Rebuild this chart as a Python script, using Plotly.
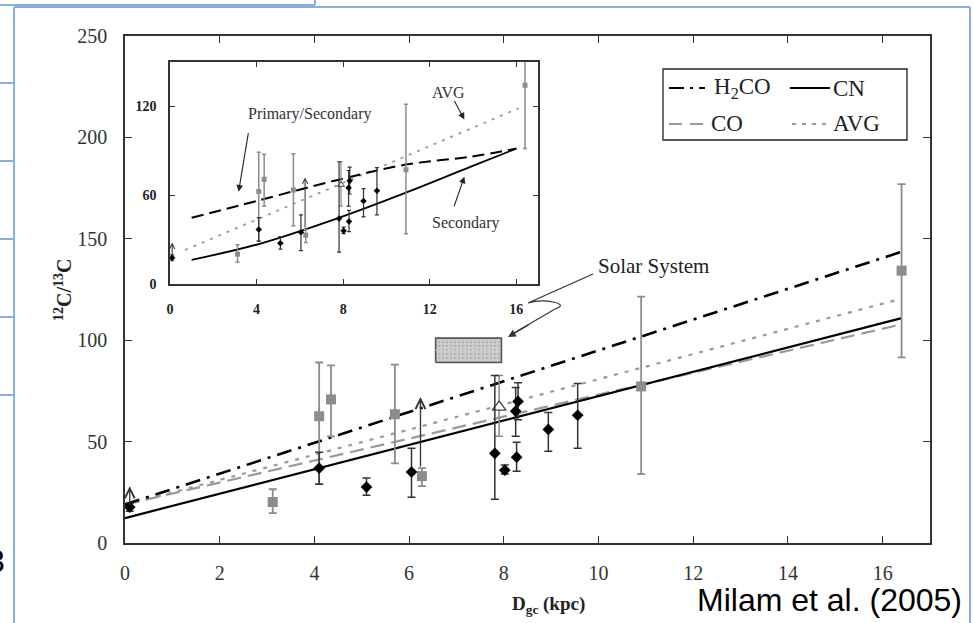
import plotly.graph_objects as go

W, H = 973, 623

# ---------------- data ----------------
# CN measurements (black diamonds)
cn_x = [0.1, 4.1, 5.1, 6.05, 7.81, 8.02, 8.3, 8.25, 8.27, 8.94, 9.56]
cn_y = [17.7, 36.9, 27.6, 35.0, 44.2, 35.9, 69.8, 65.0, 42.3, 56.0, 63.0]
cn_ep = [2.0, 7.9, 4.4, 11.7, 38.4, 2.5, 9.2, 11.7, 7.4, 8.4, 15.7]
cn_em = [2.0, 7.9, 4.0, 12.4, 22.6, 1.9, 9.0, 12.4, 6.9, 10.7, 16.3]

# CO measurements (grey squares)
co_x = [3.12, 4.1, 4.35, 5.7, 6.27, 10.9, 16.4]
co_y = [20.2, 62.5, 70.8, 63.5, 33.0, 77.2, 134.3]
co_ep = [6.3, 26.5, 16.8, 24.5, 3.9, 44.3, 42.7]
co_em = [5.5, 33.5, 18.2, 24.2, 5.0, 43.2, 42.8]

# H2CO measurement (open triangle)
h2_x = [7.9]
h2_y = [67.0]
h2_ep = [15.6]
h2_em = [14.4]

# lower limits (arrows)
lim_x = [0.1, 6.24]
lim_lo = [18.0, 37.0]
lim_hi = [28.0, 72.0]

# gradient fits (main panel)
fit_x = [0.0, 16.4]
h2co_fit = [19.0, 143.6]
cn_fit = [12.3, 110.9]
co_fit = [19.0, 107.8]
avg_fit = [18.7, 120.5]

# inset model curves
in_avg_x = [0.7, 16.1]
in_avg_y = [23.0, 118.7]
prim_x = [1.0, 4.1, 7.8, 10.9, 13.9, 16.0]
prim_y = [44.7, 56.5, 70.5, 80.7, 86.0, 91.5]
sec_x = [1.0, 4.1, 7.8, 10.9, 13.9, 16.0]
sec_y = [16.3, 27.0, 44.7, 61.7, 79.3, 91.5]

# solar system value box
solar_x = [6.56, 7.95]
solar_y = [89.0, 101.0]

x_ticks = [0, 2, 4, 6, 8, 10, 12, 14, 16]
y_ticks = [0, 50, 100, 150, 200, 250]
xi_ticks = [0, 4, 8, 12, 16]
yi_ticks = [0, 60, 120]

SERIF = "Liberation Serif"
GREY = "#8c8c8c"
LGREY = "#9a9a9a"


def PX(p):
    return p / W


def PY(p):
    return 1 - p / H


fig = go.Figure()

# ---------------- main panel ----------------
fig.add_trace(go.Scatter(x=fit_x, y=co_fit, mode="lines", xaxis="x", yaxis="y",
                         line=dict(color=LGREY, width=2.2, dash="14px,7px"), showlegend=False))
fig.add_trace(go.Scatter(x=fit_x, y=avg_fit, mode="lines", xaxis="x", yaxis="y",
                         line=dict(color=LGREY, width=2.2, dash="4px,7px"), showlegend=False))
fig.add_trace(go.Scatter(x=fit_x, y=cn_fit, mode="lines", xaxis="x", yaxis="y",
                         line=dict(color="black", width=2.2), showlegend=False))
fig.add_trace(go.Scatter(x=fit_x, y=h2co_fit, mode="lines", xaxis="x", yaxis="y",
                         line=dict(color="black", width=2.6, dash="15px,7px,3px,7px"), showlegend=False))

# solar box
fig.add_trace(go.Scatter(
    x=[solar_x[0], solar_x[1], solar_x[1], solar_x[0], solar_x[0]],
    y=[solar_y[0], solar_y[0], solar_y[1], solar_y[1], solar_y[0]],
    mode="lines", fill="toself", fillcolor="#c4c4c4",
    fillpattern=dict(shape=".", fgcolor="#9a9a9a", bgcolor="#cdcdcd", size=4, solidity=0.3),
    line=dict(color="#555555", width=1.6), xaxis="x", yaxis="y", showlegend=False))
fig.add_trace(go.Scatter(x=solar_x, y=[(solar_y[0] + solar_y[1]) / 2] * 2, mode="lines",
                         line=dict(color="#f2f2f2", width=1, dash="1px,2px"),
                         xaxis="x", yaxis="y", showlegend=False))

fig.add_trace(go.Scatter(x=co_x, y=co_y, mode="markers", xaxis="x", yaxis="y",
                         marker=dict(symbol="square", size=10, color=GREY),
                         error_y=dict(type="data", array=co_ep, arrayminus=co_em, color=GREY,
                                      thickness=1.8, width=4), showlegend=False))
fig.add_trace(go.Scatter(x=h2_x, y=h2_y, mode="markers", xaxis="x", yaxis="y",
                         marker=dict(symbol="triangle-up", size=12, color="white",
                                     line=dict(color="#444", width=1.3)),
                         error_y=dict(type="data", array=h2_ep, arrayminus=h2_em, color=GREY,
                                      thickness=1.5, width=4), showlegend=False))
fig.add_trace(go.Scatter(x=cn_x, y=cn_y, mode="markers", xaxis="x", yaxis="y",
                         marker=dict(symbol="diamond", size=9, color="black"),
                         error_y=dict(type="data", array=cn_ep, arrayminus=cn_em, color="#333",
                                      thickness=1.5, width=4), showlegend=False))

# ---------------- inset ----------------
fig.add_trace(go.Scatter(x=in_avg_x, y=in_avg_y, mode="lines", xaxis="x2", yaxis="y2",
                         line=dict(color=LGREY, width=1.8, dash="3px,6px"), showlegend=False))
fig.add_trace(go.Scatter(x=prim_x, y=prim_y, mode="lines", xaxis="x2", yaxis="y2",
                         line=dict(color="black", width=2, dash="12px,6px", shape="spline"),
                         showlegend=False))
fig.add_trace(go.Scatter(x=sec_x, y=sec_y, mode="lines", xaxis="x2", yaxis="y2",
                         line=dict(color="black", width=1.8, shape="spline"), showlegend=False))
fig.add_trace(go.Scatter(x=co_x, y=co_y, mode="markers", xaxis="x2", yaxis="y2",
                         marker=dict(symbol="square", size=5, color=GREY),
                         error_y=dict(type="data", array=co_ep, arrayminus=co_em, color=GREY,
                                      thickness=1.5, width=2), showlegend=False))
fig.add_trace(go.Scatter(x=h2_x, y=h2_y, mode="markers", xaxis="x2", yaxis="y2",
                         marker=dict(symbol="triangle-up", size=6, color="white",
                                     line=dict(color="#444", width=1)),
                         error_y=dict(type="data", array=h2_ep, arrayminus=h2_em, color=GREY,
                                      thickness=1.2, width=2), showlegend=False))
fig.add_trace(go.Scatter(x=cn_x, y=cn_y, mode="markers", xaxis="x2", yaxis="y2",
                         marker=dict(symbol="diamond", size=5, color="black"),
                         error_y=dict(type="data", array=cn_ep, arrayminus=cn_em, color="#333",
                                      thickness=1.2, width=2), showlegend=False))

annotations = []
shapes = []

# lower-limit arrows
for xr, yr, wscale, hsize in [("x", "y", 1.0, 1.5), ("x2", "y2", 0.8, 1.0)]:
    for lx, l0, l1 in zip(lim_x, lim_lo, lim_hi):
        annotations.append(dict(x=lx, y=l1, ax=lx, ay=l0, xref=xr, yref=yr, axref=xr, ayref=yr,
                                text="", showarrow=True, arrowhead=5, arrowsize=hsize,
                                arrowwidth=1.3 * wscale, arrowcolor="#333"))


def label(px, py, text, size, family=SERIF, color="#222", xanchor="center", **kw):
    annotations.append(dict(x=PX(px), y=PY(py), xref="paper", yref="paper", showarrow=False,
                            xanchor=xanchor, yanchor="middle", text=text,
                            font=dict(family=family, size=size, color=color), **kw))


# axis titles
label(63, 290, "<b><sup>12</sup>C/<sup>13</sup>C</b>", 20, textangle=-90)
label(548, 605, "<b>D<sub>gc</sub> (kpc)</b>", 19)

# solar system label and pointer
label(596, 266, "Solar System", 21, xanchor="left")
path = "M{},{} L{},{} C{},{} {},{} {},{} L{},{}".format(
    PX(593), PY(274), PX(528), PY(303), PX(545), PY(298), PX(572), PY(304),
    PX(555), PY(309), PX(514), PY(333))
shapes.append(dict(type="path", path=path, xref="paper", yref="paper",
                   line=dict(color="#333", width=1.2)))
annotations.append(dict(x=PX(508), y=PY(337), ax=22, ay=-13, xref="paper", yref="paper",
                        axref="pixel", ayref="pixel", text="", showarrow=True, arrowhead=2,
                        arrowsize=1.3, arrowwidth=1.2, arrowcolor="#333"))

# inset labels
def ilabel(x, y, text):
    annotations.append(dict(x=x, y=y, xref="x2", yref="y2", showarrow=False, xanchor="center",
                            yanchor="middle", text=text,
                            font=dict(family=SERIF, size=16, color="#333")))


def iarrow(x, y, ax, ay):
    annotations.append(dict(x=x, y=y, ax=ax, ay=ay, xref="x2", yref="y2", axref="x2",
                            ayref="y2", text="", showarrow=True, arrowhead=2, arrowsize=1.2,
                            arrowwidth=1.1, arrowcolor="#222"))


ilabel(6.48, 114.6, "Primary/Secondary")
iarrow(3.17, 62.4, 3.63, 103)
ilabel(12.87, 129.5, "AVG")
iarrow(13.6, 111.2, 13.1, 124.7)
ilabel(13.66, 41.4, "Secondary")
iarrow(13.6, 72.5, 13.1, 51.5)

# legend (drawn)
shapes.append(dict(type="rect", xref="paper", yref="paper", x0=PX(663), x1=PX(907),
                   y0=PY(140), y1=PY(69), line=dict(color="#222", width=1.3),
                   fillcolor="white"))
leg = [
    (669, 705, 88, "black", "15px,6px,3px,6px", 712, "H<sub>2</sub>CO"),
    (790, 830, 88, "black", "solid", 831, "CN"),
    (669, 708, 124, LGREY, "13px,8px", 709, "CO"),
    (792, 828, 124, LGREY, "4px,6px", 831, "AVG"),
]
for x0, x1, yy, col, dsh, tx, lab in leg:
    shapes.append(dict(type="line", xref="paper", yref="paper", x0=PX(x0), x1=PX(x1),
                       y0=PY(yy), y1=PY(yy), line=dict(color=col, width=2.2, dash=dsh)))
    label(tx, yy, lab, 23, xanchor="left")

# credit and slide remnants
label(964, 600, "Milam et al. (2005)", 32, family="Liberation Sans", color="black",
      xanchor="right")
label(7, 561, "3", 32, family="Liberation Sans", color="black", xanchor="right")

BLUE = "#8aafdd"
blue_lines = [
    (0, 5, 315, 5), (315, 0, 315, 5),
    (14, 7, 970, 7), (14, 7, 14, 623), (970, 7, 970, 623),
    (0, 83, 14, 83), (0, 161, 14, 161), (0, 239, 14, 239), (0, 317, 14, 317), (0, 395, 14, 395),
]
for x0, y0, x1, y1 in blue_lines:
    shapes.append(dict(type="line", xref="paper", yref="paper", x0=PX(x0), y0=PY(y0),
                       x1=PX(x1), y1=PY(y1), line=dict(color=BLUE, width=2)))

axc = dict(showline=True, linecolor="#333", linewidth=1.6, mirror="ticks", ticks="inside",
           tickcolor="#333", tickwidth=1.4, showgrid=False, zeroline=False, fixedrange=True,
           automargin=False)

fig.update_layout(
    width=W, height=H, margin=dict(l=0, r=0, t=0, b=0, pad=0, autoexpand=False),
    paper_bgcolor="white", plot_bgcolor="white", showlegend=False,
    xaxis=dict(domain=[PX(125), PX(930)], range=[0, 17], tickvals=x_ticks, ticklen=7,
               tickfont=dict(family=SERIF, size=20, color="#333"), ticklabelstandoff=11,
               anchor="y", **axc),
    yaxis=dict(domain=[PY(543), PY(36)], range=[0, 250], tickvals=y_ticks, ticklen=7,
               tickfont=dict(family=SERIF, size=20, color="#333"), ticklabelstandoff=12,
               anchor="x", **axc),
    xaxis2=dict(domain=[PX(170), PX(538)], range=[0, 17], tickvals=xi_ticks, ticklen=5,
                tickfont=dict(family=SERIF, size=14, color="#222", weight="bold"),
                ticklabelstandoff=11, anchor="y2", **axc),
    yaxis2=dict(domain=[PY(284), PY(62)], range=[0, 150], tickvals=yi_ticks, ticklen=5,
                tickfont=dict(family=SERIF, size=14, color="#222", weight="bold"),
                ticklabelstandoff=9, anchor="x2", **axc),
    annotations=annotations, shapes=shapes,
)

fig.write_html("out.html", config={"displayModeBar": False},
               post_script="document.body.style.margin='0';document.body.style.padding='0';")
